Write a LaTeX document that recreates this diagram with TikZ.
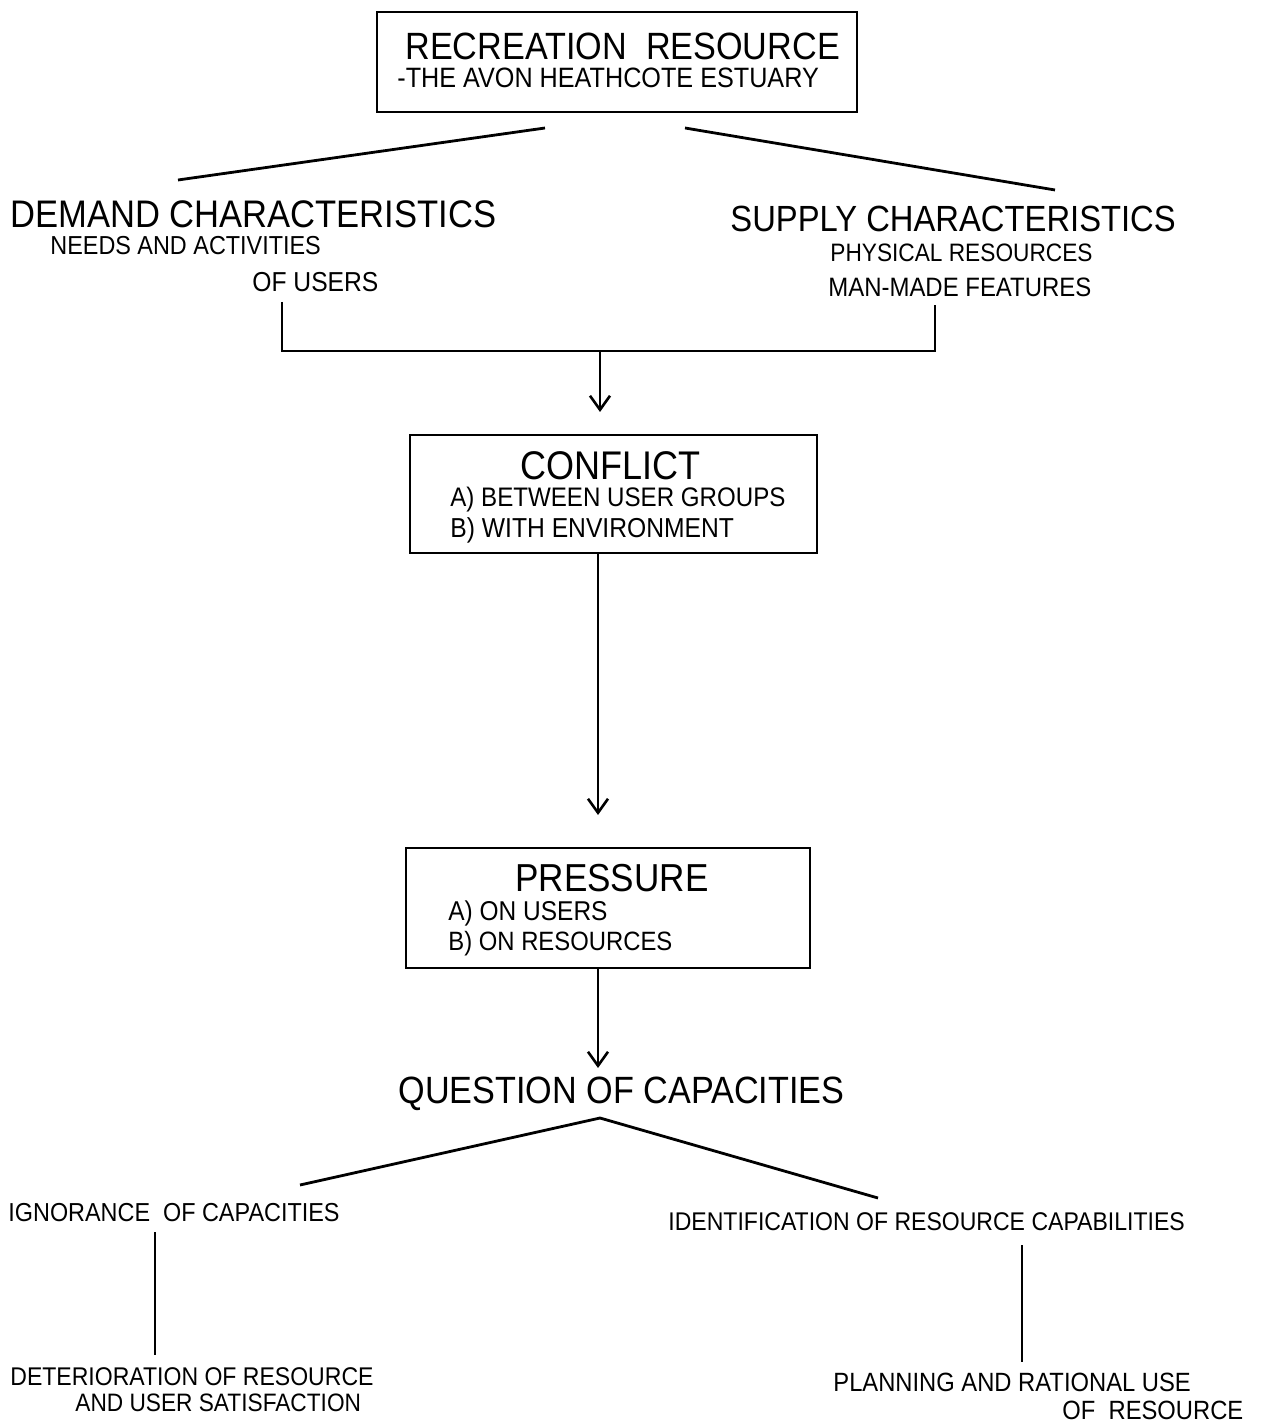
\documentclass[tikz,border=0pt]{standalone}
\usepackage{fontspec}
\setmainfont[FakeStretch=0.9]{Liberation Sans}
\usetikzlibrary{arrows.meta}
\begin{document}
\begin{tikzpicture}[x=0.5pt,y=-0.5pt,
  lbl/.style={font=\fontsize{#1}{#1}\selectfont, inner sep=0pt, anchor=base west},
  frame/.style={draw, line width=1.1pt, inner sep=0pt},
  conn/.style={line width=1.4pt},
  arr/.style={conn, -{Straight Barb[length=7pt, width=10pt, line width=1.3pt]}}]
\useasboundingbox[fill=white] (0,0) rectangle (1265,1422);

% boxes
\node[frame, minimum width=240pt, minimum height=50pt] (topbox) at (617,62) {};
\node[frame, minimum width=203.5pt, minimum height=59pt] (cbox) at (613.5,494) {};
\node[frame, minimum width=202pt, minimum height=60pt] (pbox) at (608,908) {};

% texts
\node[lbl=19] (rr) at (405,60) {RECREATION\ \ RESOURCE};
\node[lbl=14] (avon) at (397,88) {-THE AVON HEATHCOTE ESTUARY};

\node[lbl=19.2] (demand) at (10,228) {DEMAND CHARACTERISTICS};
\node[lbl=13] (needs) at (50,255) {NEEDS AND ACTIVITIES};
\node[lbl=13.7] (ofusers) at (252,292) {OF USERS};

\node[lbl=18.2] (supply) at (730,232) {SUPPLY CHARACTERISTICS};
\node[lbl=12.6] (phys) at (830,262) {PHYSICAL RESOURCES};
\node[lbl=13.3] (man) at (828,297) {MAN-MADE FEATURES};

\node[lbl=20] (conflict) at (520,479) {CONFLICT};
\node[lbl=13.4] (ca) at (450,506) {A) BETWEEN USER GROUPS};
\node[lbl=13.7] (cb) at (450,537) {B) WITH ENVIRONMENT};

\node[lbl=19.5] (pressure) at (515,891) {PRESSURE};
\node[lbl=13.6] (pa) at (448,920) {A) ON USERS};
\node[lbl=13.25] (pb) at (448,950) {B) ON RESOURCES};

\node[lbl=19] (question) at (398,1103) {QUESTION OF CAPACITIES};

\node[lbl=13] (ignor) at (8,1221) {IGNORANCE\ \ OF CAPACITIES};
\node[lbl=12.8] (deter) at (10,1385) {DETERIORATION OF RESOURCE};
\node[lbl=12.6] (anduser) at (75,1411) {AND USER SATISFACTION};

\node[lbl=12.8] (ident) at (668,1230) {IDENTIFICATION OF RESOURCE CAPABILITIES};
\node[lbl=13.2] (plan) at (833,1391) {PLANNING AND RATIONAL USE};
\node[lbl=13.2] (ofres) at (1062,1419) {OF\ \ RESOURCE};

% connector end points
\coordinate (t1) at (545,128);
\coordinate (d1) at (178,180);
\coordinate (t2) at (685,128);
\coordinate (s1) at (1055,190);
\coordinate (dL) at (282,302);
\coordinate (sR) at (935,305);
\coordinate (jn) at (600,351);
\coordinate (a1) at (600,412);
\coordinate (c1) at (598,553);
\coordinate (a2) at (598,815);
\coordinate (p1) at (598,968);
\coordinate (a3) at (598,1068);
\coordinate (q1) at (600,1118);
\coordinate (i1) at (300,1185);
\coordinate (r1) at (878,1198);
\coordinate (i2) at (155,1232);
\coordinate (i3) at (155,1355);
\coordinate (r2) at (1022,1245);
\coordinate (r3) at (1022,1362);

% connectors
\draw[conn] (t1) -- (d1);
\draw[conn] (t2) -- (s1);
\draw[conn] (dL) |- (jn) -| (sR);
\draw[arr] (jn) -- (a1);
\draw[arr] (c1) -- (a2);
\draw[arr] (p1) -- (a3);
\draw[conn] (i1) -- (q1) -- (r1);
\draw[conn] (i2) -- (i3);
\draw[conn] (r2) -- (r3);
\end{tikzpicture}
\end{document}
